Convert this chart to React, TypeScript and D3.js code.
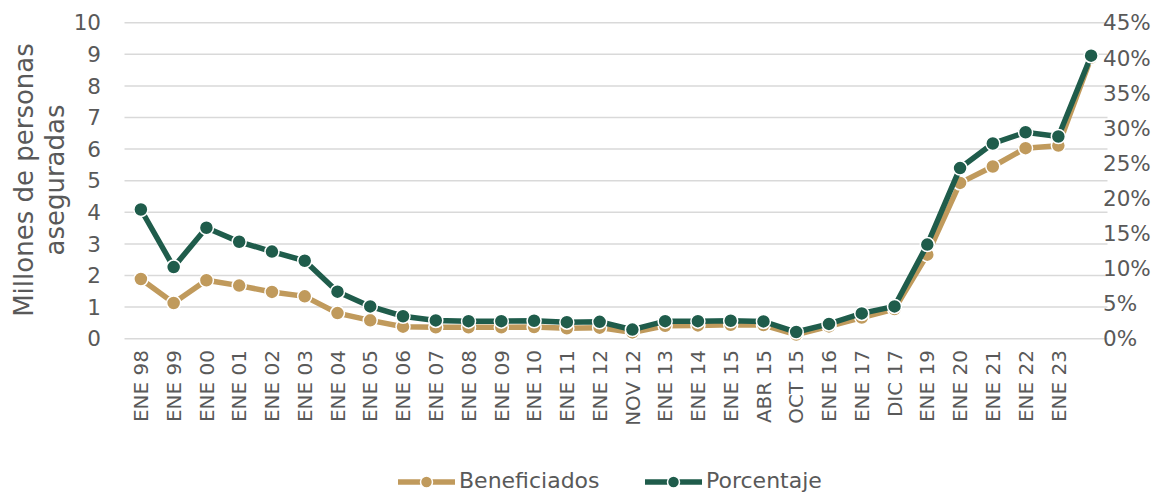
import React from "react";
import * as d3 from "d3";

const categories = [
  "ENE 98", "ENE 99", "ENE 00", "ENE 01", "ENE 02", "ENE 03", "ENE 04", "ENE 05",
  "ENE 06", "ENE 07", "ENE 08", "ENE 09", "ENE 10", "ENE 11", "ENE 12", "NOV 12",
  "ENE 13", "ENE 14", "ENE 15", "ABR 15", "OCT 15", "ENE 16", "ENE 17", "DIC 17",
  "ENE 19", "ENE 20", "ENE 21", "ENE 22", "ENE 23", "",
];

// Millones de personas (eje izquierdo)
const beneficiados = [
  1.89, 1.13, 1.85, 1.68, 1.48, 1.34, 0.81, 0.58, 0.38, 0.36, 0.36, 0.36, 0.37, 0.33,
  0.35, 0.2, 0.41, 0.42, 0.44, 0.43, 0.13, 0.39, 0.67, 0.94, 2.66, 4.93, 5.45, 6.03,
  6.11, 8.9,
];

// Porcentaje (eje derecho, %)
const porcentaje = [
  18.4, 10.2, 15.8, 13.8, 12.4, 11.1, 6.7, 4.6, 3.2, 2.6, 2.5, 2.5, 2.55, 2.35, 2.4,
  1.3, 2.5, 2.5, 2.55, 2.46, 0.95, 2.1, 3.6, 4.6, 13.4, 24.3, 27.8, 29.4, 28.8, 40.3,
];

const leftTicks = [0, 1, 2, 3, 4, 5, 6, 7, 8, 9, 10];
const rightTicks = [0, 5, 10, 15, 20, 25, 30, 35, 40, 45];

const TAN = "#C09A5C";
const GREEN = "#1F5C4B";
const TEXT = "#595959";
const GRID = "#D9D9D9";
const FONT = "'DejaVu Sans', sans-serif";

export default function App() {
  const W = 1154;
  const H = 494;
  const left = 124.5;
  const right = 1107.5;
  const top = 22.7;
  const bottom = 338.7;

  const x = d3
    .scaleBand<number>()
    .domain(categories.map((_, i) => i))
    .range([left, right]);
  const cx = (i: number) => (x(i) as number) + x.bandwidth() / 2;
  const yL = d3.scaleLinear().domain([0, 10]).range([bottom, top]);
  const yR = d3.scaleLinear().domain([0, 45]).range([bottom, top]);

  const lineL = d3
    .line<number>()
    .x((_, i) => cx(i))
    .y((d) => yL(d));
  const lineR = d3
    .line<number>()
    .x((_, i) => cx(i))
    .y((d) => yR(d));

  return (
    <svg
      width={W}
      height={H}
      style={{ position: "absolute", left: 0, top: 0, background: "#fff" }}
      fontFamily={FONT}
    >
      {leftTicks.map((t) => (
        <g key={"l" + t}>
          <line x1={left} x2={right} y1={yL(t)} y2={yL(t)} stroke={GRID} strokeWidth={1.5} />
          <text x={101} y={yL(t)} dy="0.36em" textAnchor="end" fontSize={21.5} fill={TEXT}>
            {t}
          </text>
        </g>
      ))}
      {rightTicks.map((t) => (
        <text key={"r" + t} x={1103} y={yR(t)} dy="0.36em" textAnchor="start" fontSize={21.5} fill={TEXT}>
          {t + "%"}
        </text>
      ))}
      <text transform={`translate(33,180) rotate(-90)`} textAnchor="middle" fontSize={26} fill={TEXT}>
        Millones de personas
      </text>
      <text transform={`translate(64,180) rotate(-90)`} textAnchor="middle" fontSize={26} fill={TEXT}>
        aseguradas
      </text>
      {categories.map((c, i) => (
        <text
          key={"c" + i}
          transform={`translate(${cx(i)},350) rotate(-90)`}
          textAnchor="end"
          dy="0.36em"
          fontSize={20}
          fill={TEXT}
        >
          {c}
        </text>
      ))}
      <path d={lineL(beneficiados) || ""} fill="none" stroke={TAN} strokeWidth={5.5} />
      {beneficiados.map((d, i) => (
        <circle key={"b" + i} cx={cx(i)} cy={yL(d)} r={7} fill={TAN} stroke="#fff" strokeWidth={1.5} />
      ))}
      <path d={lineR(porcentaje) || ""} fill="none" stroke={GREEN} strokeWidth={5.5} />
      {porcentaje.map((d, i) => (
        <circle key={"p" + i} cx={cx(i)} cy={yR(d)} r={7} fill={GREEN} stroke="#fff" strokeWidth={1.5} />
      ))}
      {[
        { label: "Beneficiados", color: TAN, x0: 398 },
        { label: "Porcentaje", color: GREEN, x0: 645 },
      ].map((l) => (
        <g key={l.label}>
          <line x1={l.x0} x2={l.x0 + 57} y1={482} y2={482} stroke={l.color} strokeWidth={5.5} />
          <circle cx={l.x0 + 28.5} cy={482} r={6} fill={l.color} stroke="#fff" strokeWidth={1.5} />
          <text x={l.x0 + 61} y={488} fontSize={22} fill={TEXT}>
            {l.label}
          </text>
        </g>
      ))}
    </svg>
  );
}
